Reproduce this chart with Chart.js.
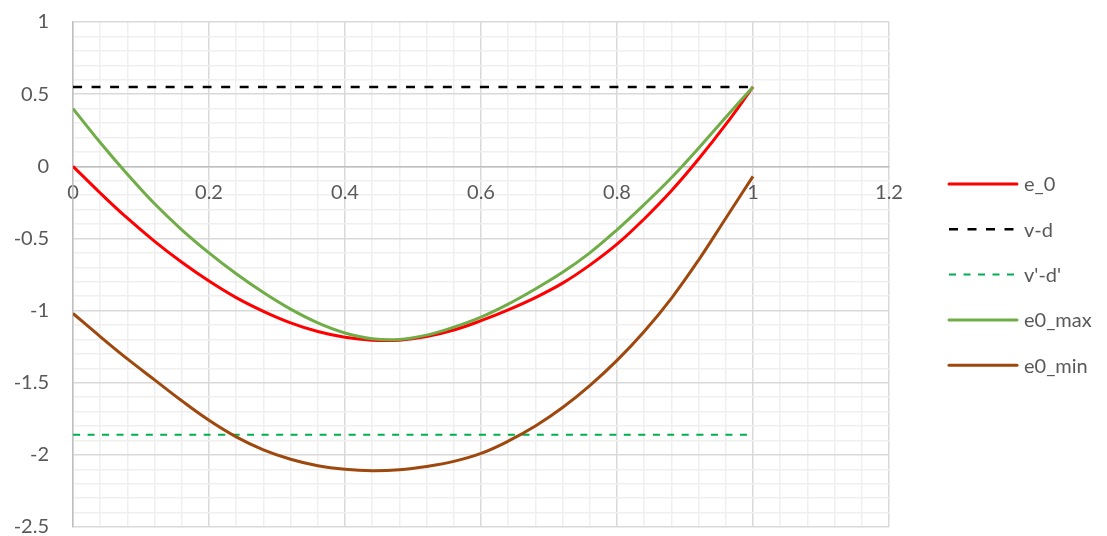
<!DOCTYPE html>
<html>
<head>
<meta charset="utf-8">
<script src="https://cdn.jsdelivr.net/npm/chart.js@4.4.0/dist/chart.umd.min.js"></script>
<style>
  body { margin: 0; background: #fff; }
  canvas { display: block; }
</style>
</head>
<body>
<canvas id="chart" width="1107" height="536"></canvas>
<script>
// x positions shared by the three curves
const xs    = [0, 0.04, 0.08, 0.12, 0.16, 0.2, 0.24, 0.28, 0.32, 0.36, 0.4, 0.44, 0.48,
               0.52, 0.56, 0.6, 0.64, 0.68, 0.72, 0.76, 0.8, 0.84, 0.88, 0.92, 0.96, 1];
const e0    = [0, -0.185, -0.36, -0.52, -0.665, -0.795, -0.91, -1.005, -1.085, -1.145, -1.185, -1.205, -1.205,
               -1.18, -1.135, -1.07, -0.995, -0.91, -0.81, -0.685, -0.54, -0.365, -0.17, 0.05, 0.29, 0.55];
const e0Max = [0.4, 0.165, -0.055, -0.26, -0.44, -0.6, -0.745, -0.875, -0.99, -1.085, -1.155, -1.195, -1.2,
               -1.17, -1.115, -1.045, -0.955, -0.85, -0.735, -0.6, -0.44, -0.265, -0.08, 0.125, 0.34, 0.55];
const e0Min = [-1.02, -1.18, -1.335, -1.48, -1.625, -1.76, -1.875, -1.965, -2.03, -2.075, -2.1, -2.11, -2.103,
               -2.08, -2.045, -1.99, -1.905, -1.8, -1.672, -1.52, -1.345, -1.145, -0.915, -0.65, -0.36, -0.07];
// flat reference lines
const refX  = [0, 1];
const vd    = [0.55, 0.55];
const vdPr  = [-1.86, -1.86];

const labels = ['e_0', 'v-d', "v'-d'", 'e0_max', 'e0_min'];

const FONT = 'Lato, "Open Sans", sans-serif';
const TEXT = '#595959';

function pts(xv, yv) {
    return xv.map((x, i) => ({ x: x, y: yv[i] }));
}

function isMajor(v, step) {
    const r = v / step;
    return Math.abs(r - Math.round(r)) < 1e-6;
}

// legend drawn at the right, Excel style
const sideLegend = {
    id: 'sideLegend',
    afterDraw(chart) {
        const ctx = chart.ctx;
        ctx.save();
        chart.data.datasets.forEach((ds, i) => {
            const y = 184 + i * 45.3;
            ctx.beginPath();
            ctx.strokeStyle = ds.borderColor;
            ctx.lineWidth = ds.borderWidth;
            ctx.setLineDash(ds.borderDash || []);
            ctx.lineCap = ds.borderDash ? 'butt' : 'round';
            ctx.moveTo(949, y);
            ctx.lineTo(1017, y);
            ctx.stroke();
            ctx.setLineDash([]);
            ctx.fillStyle = TEXT;
            ctx.font = '20px ' + FONT;
            ctx.textBaseline = 'middle';
            ctx.textAlign = 'left';
            ctx.fillText(ds.label, 1024, y + 1);
        });
        ctx.restore();
    }
};

const ctx = document.getElementById('chart').getContext('2d');
new Chart(ctx, {
    type: 'scatter',
    data: {
        datasets: [
            { label: labels[0], data: pts(xs, e0), borderColor: '#FF0000', borderWidth: 3, order: 5 },
            { label: labels[1], data: pts(refX, vd), borderColor: '#000000', borderWidth: 2.5, borderDash: [9, 9.5], order: 4 },
            { label: labels[2], data: pts(refX, vdPr), borderColor: '#00B050', borderWidth: 2, borderDash: [7, 7.5], order: 3 },
            { label: labels[3], data: pts(xs, e0Max), borderColor: '#70AD47', borderWidth: 3, order: 2 },
            { label: labels[4], data: pts(xs, e0Min), borderColor: '#9E480E', borderWidth: 3, order: 1 }
        ].map(d => Object.assign(d, {
            showLine: true,
            pointRadius: 0,
            pointHoverRadius: 0,
            tension: 0.4,
            backgroundColor: d.borderColor
        }))
    },
    options: {
        responsive: false,
        animation: false,
        layout: { padding: { left: 0, right: 218, top: 22, bottom: 9 } },
        plugins: {
            legend: { display: false },
            tooltip: { enabled: false }
        },
        scales: {
            x: {
                type: 'linear',
                position: { y: 0 },
                min: 0,
                max: 1.2,
                afterFit: s => { s.height = 0; s.paddingLeft = 0; s.paddingRight = 0; },
                ticks: {
                    stepSize: 0.04,
                    autoSkip: false,
                    maxRotation: 0,
                    padding: 14,
                    color: TEXT,
                    font: { family: FONT, size: 20 },
                    callback: v => isMajor(v, 0.2) ? String(Math.round(v * 5) / 5) : ''
                },
                grid: {
                    drawTicks: false,
                    lineWidth: 1.5,
                    color: c => isMajor(c.tick.value, 0.2) ? '#D9D9D9' : '#EFEFEF'
                },
                border: { display: true, color: '#BFBFBF', width: 1.5 }
            },
            y: {
                type: 'linear',
                min: -2.5,
                max: 1,
                afterFit: s => { s.width = 73; s.paddingTop = 0; s.paddingBottom = 0; },
                ticks: {
                    stepSize: 0.1,
                    autoSkip: false,
                    padding: 24,
                    color: TEXT,
                    font: { family: FONT, size: 20 },
                    callback: v => isMajor(v, 0.5) ? String(Math.round(v * 2) / 2) : ''
                },
                grid: {
                    drawTicks: false,
                    lineWidth: 1.5,
                    color: c => isMajor(c.tick.value, 0.5) ? '#D9D9D9' : '#EFEFEF'
                },
                border: { display: true, color: '#BFBFBF', width: 1.5 }
            }
        }
    },
    plugins: [sideLegend]
});
</script>
</body>
</html>
